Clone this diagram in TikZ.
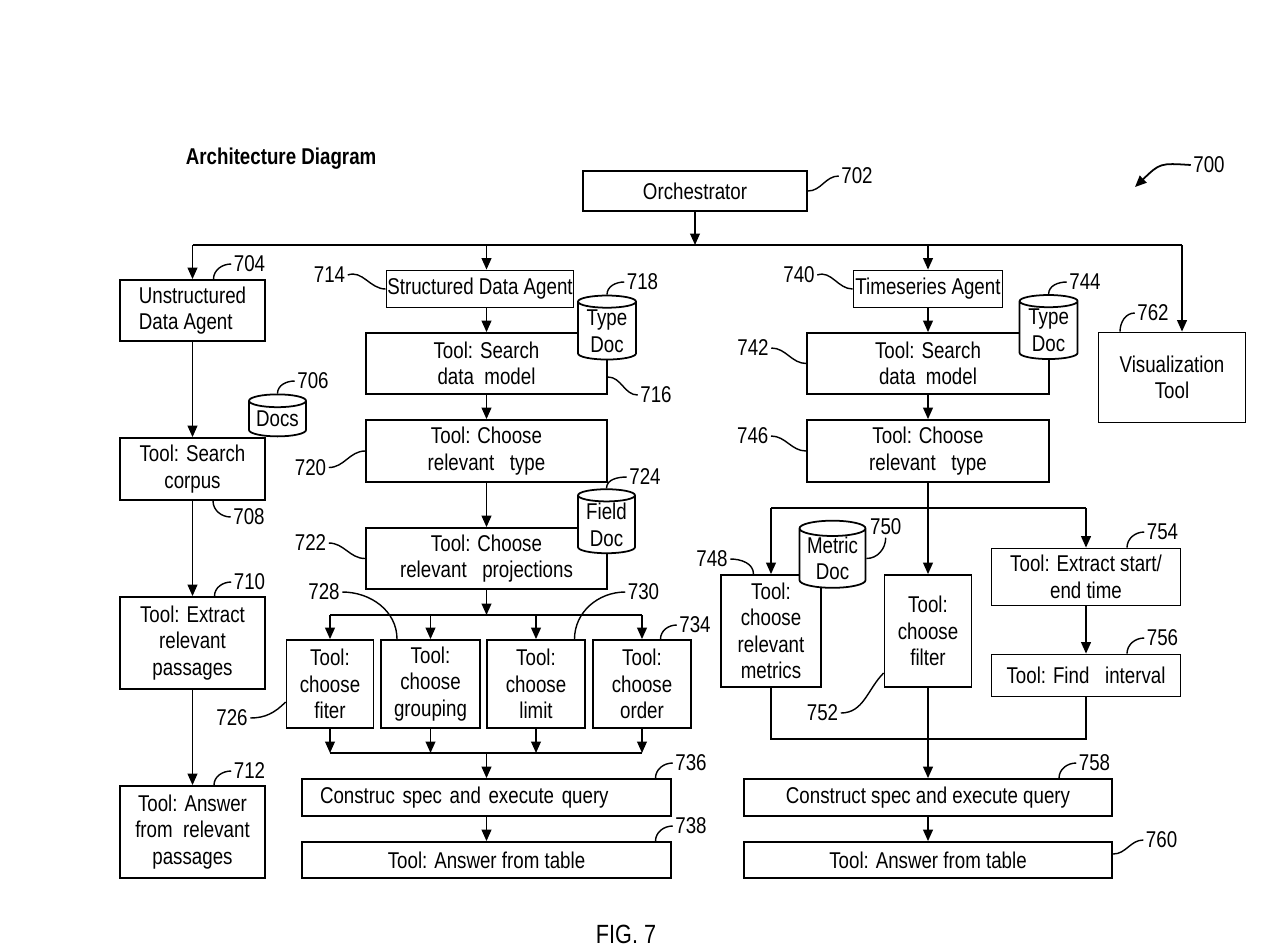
\documentclass[tikz,border=0pt]{standalone}
\usepackage{fontspec}
\setmainfont{Liberation Sans}[FakeStretch=0.82]
\usetikzlibrary{shapes.geometric,arrows.meta}

\begin{document}
\begin{tikzpicture}[x=0.02cm, y=-0.02cm, line width=1pt,
  >={Triangle[length=6.5pt,width=5.5pt]},
  box/.style 2 args={draw, fill=white, minimum width=#1*\Px, minimum height=#2*\Px, inner sep=0pt, align=center},
  doc/.style 2 args={cylinder, shape border rotate=90, draw, fill=white, minimum width=#1*\Px, minimum height=#2*\Px, aspect=0.3, inner sep=0pt, align=center},
  num/.style={inner sep=1pt},
  lead/.style={line width=0.8pt}]

  \fontsize{13pt}{15.1pt}\selectfont
  \newcommand\Px{0.02cm}

  \useasboundingbox (0,0) rectangle (1280,948);

  \node[font=\bfseries, anchor=west, inner sep=0pt] (title) at (185,159) {Architecture Diagram};
  \node[box={224}{40}] (orch) at (695,191) {Orchestrator};

  %% unstructured column
  \node[box={145}{61}, align=left] (uda) at (192.5,310.5) {Unstructured\\Data Agent};
  \node[box={145}{62}] (scorp) at (192.5,469) {Tool: Search\\corpus};
  \node[box={145}{92}] (extr) at (192.5,643) {Tool: Extract\\relevant\\passages};
  \node[box={145}{92}] (ansp) at (192.5,832) {Tool: Answer\\from\ \ relevant\\passages};
  \node[doc={57}{42}] (docs) at (277.5,419) {Docs};

  %% structured column
  \node[box={187}{37}] (sda) at (480,289) {Structured Data Agent};
  \node[box={241}{61}] (sdm) at (486.5,363.5) {Tool: Search\\data\ \ model};
  \node[box={241}{62}] (sct) at (486.5,451) {Tool: Choose\\relevant\ \ \ type};
  \node[box={241}{61}] (spr) at (486.5,558.5) {Tool: Choose\\relevant\ \ \ projections};
  \node[box={87}{88}] (sfi) at (330,684) {Tool:\\choose\\fiter};
  \node[box={99}{88}] (sgr) at (430.5,684) {Tool:\\choose\\grouping};
  \node[box={98}{88}] (sli) at (536,684) {Tool:\\choose\\limit};
  \node[box={98}{88}] (sor) at (642,684) {Tool:\\choose\\order};
  \node[box={369}{37}, text width=333*\Px, align=left] (sqry) at (486.5,797.5) {Construc spec and execute query};
  \node[box={369}{36}] (stab) at (486.5,860) {Tool: Answer from table};
  \node[doc={58}{64}] (sdoc) at (607,331) {Type\\Doc};
  \node[doc={57}{64}] (fdoc) at (606.5,524.7) {Field\\Doc};

  %% timeseries column
  \node[box={149}{37}] (tsa) at (928,289) {Timeseries Agent};
  \node[box={241.5}{61}] (tsdm) at (928,363.5) {Tool: Search\\data\ \ model};
  \node[box={242}{62}] (tct) at (928,451) {Tool: Choose\\relevant\ \ \ type};
  \node[box={100}{112}] (tme) at (771,631) {Tool:\\choose\\relevant\\metrics};
  \node[box={87}{112}] (tfi) at (928,631) {Tool:\\choose\\filter};
  \node[box={189}{57}] (tex) at (1086,577) {Tool: Extract start/\\end time};
  \node[box={189}{42}] (tfind) at (1086,675.5) {Tool: Find\ \ \ interval};
  \node[box={368.5}{37}] (tqry) at (928,797.5) {Construct spec and execute query};
  \node[box={368.5}{36}] (ttab) at (928,860) {Tool: Answer from table};
  \node[doc={58}{64}] (tdoc) at (1048.6,330.5) {Type\\Doc};
  \node[doc={66}{63}] (mdoc) at (832.5,558.5) {Metric\\Doc};

  \node[box={147}{90}] (viz) at (1172,377.5) {Visualization\\Tool};

  \node[font=\fontsize{15pt}{18pt}\selectfont, inner sep=0pt] (fig) at (626,934) {FIG. 7};

  %% orchestrator -> agents
  \coordinate (bus) at (695,245);
  \coordinate (vizin) at (1182,245);
  \draw[->] (orch) -- (bus);
  \draw (uda.north |- bus) -- (vizin);
  \draw[->] (uda.north |- bus) -- (uda);
  \draw[->] (sdm.north |- bus) -- (sdm |- sda.north);
  \draw[->] (tsa.north |- bus) -- (tsa);
  \draw[->] (vizin) -- (vizin |- viz.north);

  %% unstructured
  \draw[->] (uda) -- (scorp);
  \draw[->] (scorp) -- (extr);
  \draw[->] (extr) -- (ansp);

  %% structured
  \coordinate (sbus) at (486.5,615);
  \coordinate (smrg) at (486.5,753);
  \draw[->] (sda.south -| sdm) -- (sdm);
  \draw[->] (sdm) -- (sct);
  \draw[->] (sct) -- (spr);
  \draw[->] (spr) -- (sbus);
  \draw (sfi.north |- sbus) -- (sor.north |- sbus);
  \draw (sfi.south |- smrg) -- (sor.south |- smrg);
  \foreach \n in {sfi,sgr,sli,sor} {
    \draw[->] (\n.north |- sbus) -- (\n);
    \draw[->] (\n) -- (\n.south |- smrg);
  }
  \draw[->] (smrg) -- (sqry);
  \draw[->] (sqry) -- (stab);

  %% timeseries
  \coordinate (tbus) at (928,508);
  \coordinate (tmrg) at (928,739);
  \draw[->] (tsa) -- (tsdm);
  \draw[->] (tsdm) -- (tct);
  \draw (tct) -- (tbus);
  \draw[->] (tbus) -- (tfi);
  \draw (tme.north |- tbus) -- (tex.north |- tbus);
  \draw[->] (tme.north |- tbus) -- (tme);
  \draw[->] (tex.north |- tbus) -- (tex);
  \draw[->] (tex) -- (tfind);
  \draw (tme) -- (tme.south |- tmrg) -- (tfind.south |- tmrg) -- (tfind);
  \draw[->] (tfi) -- (tqry);
  \draw[->] (tqry) -- (ttab);

  %% reference numbers
  \node[num] (n700) at (1209,165) {700};
  \node[num] (n702) at (857,176) {702};
  \node[num] (n704) at (249.5,264) {704};
  \node[num] (n706) at (313,381) {706};
  \node[num] (n708) at (249,517) {708};
  \node[num] (n710) at (249.5,582) {710};
  \node[num] (n712) at (249.5,771) {712};
  \node[num] (n714) at (329.5,275) {714};
  \node[num] (n716) at (656,395) {716};
  \node[num] (n718) at (642.5,282) {718};
  \node[num] (n720) at (310.5,467.5) {720};
  \node[num] (n722) at (310.5,543) {722};
  \node[num] (n724) at (645,477) {724};
  \node[num] (n726) at (232,718) {726};
  \node[num] (n728) at (324,592) {728};
  \node[num] (n730) at (643.5,592) {730};
  \node[num] (n734) at (695,625) {734};
  \node[num] (n736) at (691,763) {736};
  \node[num] (n738) at (691,826) {738};
  \node[num] (n740) at (799,275) {740};
  \node[num] (n742) at (753,348) {742};
  \node[num] (n744) at (1085,282) {744};
  \node[num] (n746) at (752.7,436) {746};
  \node[num] (n748) at (712,559) {748};
  \node[num] (n750) at (885.7,527) {750};
  \node[num] (n752) at (822.5,713) {752};
  \node[num] (n754) at (1162.5,532) {754};
  \node[num] (n756) at (1162.5,638) {756};
  \node[num] (n758) at (1094.5,763) {758};
  \node[num] (n760) at (1161.6,840) {760};
  \node[num] (n762) at (1153,313) {762};

  \coordinate (p700) at (1135,187);
  \draw[->] (n700.west) .. controls (1160,163) .. (p700);

  \draw[lead] (orch.east) to[out=0,in=180] (n702.west);
  \draw[lead] ([xshift=21*\Px]uda.north) to[out=90,in=180] (n704.west);
  \draw[lead] (docs.north) to[out=90,in=180] (n706.west);
  \draw[lead] ([xshift=20.5*\Px]scorp.south) to[out=-90,in=180] (n708.west);
  \draw[lead] ([xshift=22*\Px]extr.north) to[out=90,in=180] (n710.west);
  \draw[lead] ([xshift=21.5*\Px]ansp.north) to[out=90,in=180] (n712.west);
  \draw[lead] (n714.east) to[out=20,in=180] (sda.west);
  \draw[lead] ([yshift=-13.5*\Px]sdm.east) to[out=0,in=180] (n716.west);
  \draw[lead] (sdoc.north) to[out=90,in=180] (n718.west);
  \draw[lead] (n720.east) to[out=0,in=180] (sct.west);
  \draw[lead] (n722.east) to[out=0,in=180] (spr.west);
  \draw[lead] (fdoc.north) to[out=90,in=180] (n724.west);
  \draw[lead] (n726.east) to[out=0,in=225] ([yshift=-18*\Px]sfi.west);
  \draw[lead] (n728.east) to[out=0,in=90] ([xshift=-33.5*\Px]sgr.north);
  \draw[lead] (n730.west) to[out=180,in=90] ([xshift=38.5*\Px]sli.north);
  \draw[lead] ([xshift=18.5*\Px]sor.north) to[out=90,in=180] (n734.west);
  \draw[lead] ([xshift=169*\Px]sqry.north) to[out=90,in=180] (n736.west);
  \draw[lead] ([xshift=169*\Px]stab.north) to[out=90,in=180] (n738.west);
  \draw[lead] (n740.east) to[out=20,in=180] (tsa.west);
  \draw[lead] (n742.east) to[out=0,in=180] (tsdm.west);
  \draw[lead] (tdoc.north) to[out=90,in=180] (n744.west);
  \draw[lead] (n746.east) to[out=0,in=180] (tct.west);
  \draw[lead] (n748.east) to[out=0,in=90] ([xshift=-17.5*\Px]tme.north);
  \draw[lead] (mdoc.east) to[out=0,in=-90] (n750.south);
  \draw[lead] (n752.east) to[out=0,in=225] ([yshift=-42*\Px]tfi.west);
  \draw[lead] ([xshift=41*\Px]tex.north) to[out=90,in=180] (n754.west);
  \draw[lead] ([xshift=41*\Px]tfind.north) to[out=90,in=180] (n756.west);
  \draw[lead] ([xshift=131*\Px]tqry.north) to[out=90,in=180] (n758.west);
  \draw[lead] ([yshift=6*\Px]ttab.east) to[out=0,in=180] (n760.west);
  \draw[lead] ([xshift=-52*\Px]viz.north) to[out=90,in=180] (n762.west);
\end{tikzpicture}
\end{document}
